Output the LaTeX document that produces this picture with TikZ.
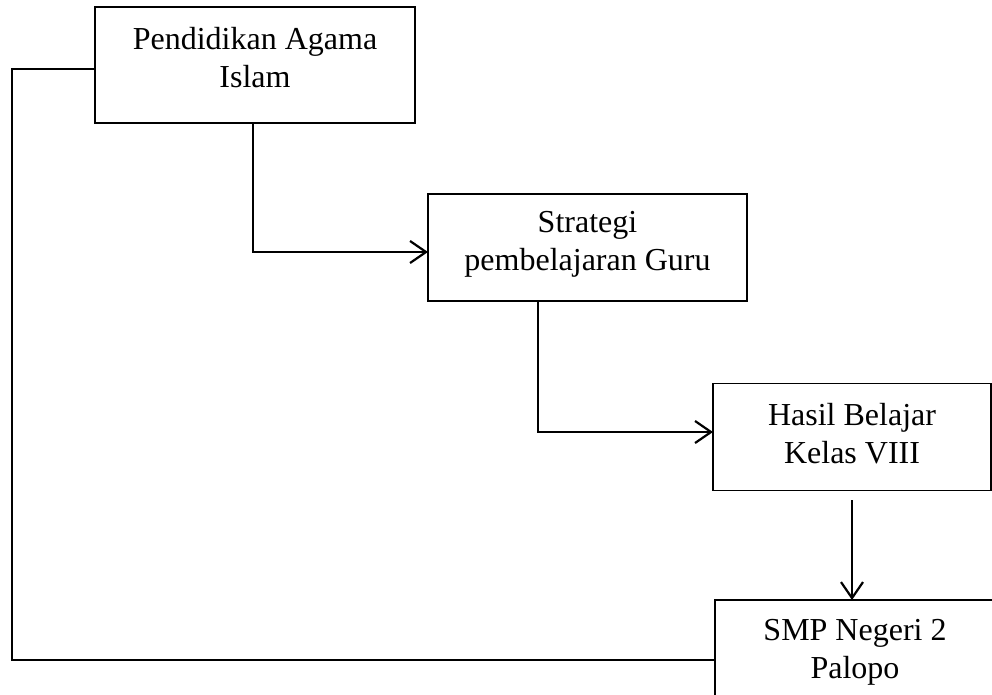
\documentclass[tikz,border=0pt]{standalone}
\usepackage{fontspec}
\setmainfont{Liberation Serif}
\usetikzlibrary{arrows.meta}
\begin{document}
\begin{tikzpicture}[x=1pt,y=-1pt,
  box/.style={draw,line width=1.8pt,inner sep=0pt},
  txt/.style={align=center,inner sep=0pt,font=\fontsize{32}{38}\selectfont},
  conn/.style={line width=2.2pt,-{Straight Barb[length=16pt,width=22pt,line width=2.2pt]}},
  plain/.style={line width=2.2pt}]
\useasboundingbox (0,0) rectangle (992,694);
\clip (0,0) rectangle (992,694);
\node[box,minimum width=320pt,minimum height=116pt] (b1) at (255,65) {};
\node[txt] (t1) at (255,58) {Pendidikan Agama\\Islam};
\node[box,minimum width=319pt,minimum height=107pt] (b2) at (587.5,247.5) {};
\node[txt] (t2) at (587.5,244) {Strategi\\pembelajaran Guru};
\node[box,minimum width=278pt,minimum height=107pt] (b3) at (852,437) {};
\node[txt] (t3) at (852,434) {Hasil Belajar\\Kelas VIII};
\node[box,minimum width=280pt,minimum height=116pt] (b4) at (855,658) {};
\node[txt] (t4) at (855,652) {SMP Negeri 2\\Palopo};
\coordinate (s1) at (295,123);
\coordinate (c1) at (253,123);
\coordinate (a2) at (428,252);
\coordinate (s2) at (581,301);
\coordinate (c2) at (538,301);
\coordinate (a3) at (713,432);
\coordinate (d1) at (852,500);
\coordinate (d2) at (852,600);
\coordinate (l1) at (95,69);
\coordinate (l2) at (12,69);
\coordinate (l3) at (12,660);
\coordinate (l4) at (715,660);
\draw[conn] (s1) -- (c1) |- (a2);
\draw[conn] (s2) -- (c2) |- (a3);
\draw[conn] (d1) -- (d2);
\draw[plain] (l1) -- (l2) -- (l3) -- (l4);
\end{tikzpicture}
\end{document}
